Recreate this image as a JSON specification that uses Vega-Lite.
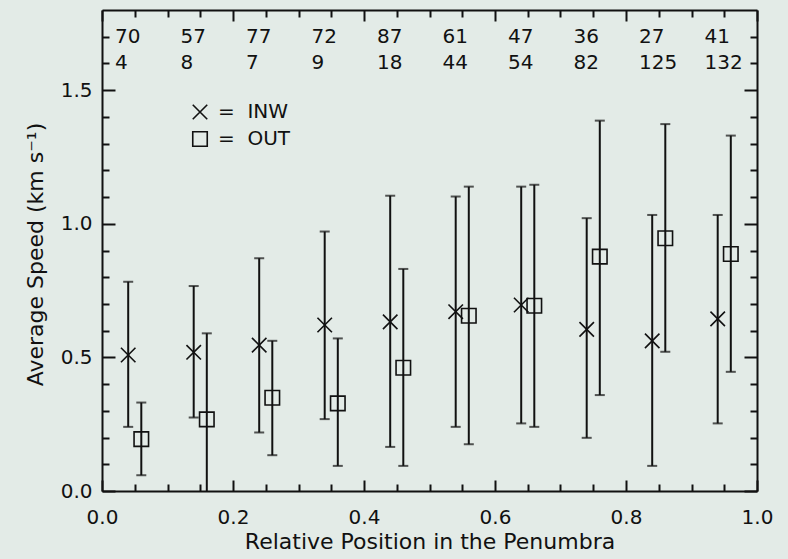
{
  "$schema": "https://vega.github.io/schema/vega-lite/v6.json",
  "width": 655,
  "height": 481,
  "autosize": {"type": "none"},
  "padding": {"left": 102, "top": 10, "right": 31, "bottom": 68},
  "background": "#e3ebe7",
  "config": {
    "view": {"stroke": null},
    "font": "DejaVu Sans",
    "axis": {
      "grid": false,
      "domainColor": "#111111",
      "tickColor": "#111111",
      "labelColor": "#111111",
      "titleColor": "#111111",
      "domainWidth": 2,
      "tickWidth": 2,
      "labelFont": "DejaVu Sans",
      "titleFont": "DejaVu Sans",
      "labelFontSize": 20,
      "titleFontSize": 22,
      "titleFontWeight": "normal",
      "labelFlush": false,
      "labelOverlap": false
    }
  },
  "datasets": {
    "speeds": [
      {"series": "INW", "pos": 0.04, "mean": 0.509, "low": 0.240, "high": 0.783},
      {"series": "INW", "pos": 0.14, "mean": 0.519, "low": 0.275, "high": 0.767},
      {"series": "INW", "pos": 0.24, "mean": 0.546, "low": 0.219, "high": 0.871},
      {"series": "INW", "pos": 0.34, "mean": 0.621, "low": 0.269, "high": 0.971},
      {"series": "INW", "pos": 0.44, "mean": 0.633, "low": 0.165, "high": 1.105},
      {"series": "INW", "pos": 0.54, "mean": 0.671, "low": 0.240, "high": 1.102},
      {"series": "INW", "pos": 0.64, "mean": 0.696, "low": 0.253, "high": 1.139},
      {"series": "INW", "pos": 0.74, "mean": 0.605, "low": 0.199, "high": 1.021},
      {"series": "INW", "pos": 0.84, "mean": 0.562, "low": 0.094, "high": 1.033},
      {"series": "INW", "pos": 0.94, "mean": 0.644, "low": 0.253, "high": 1.033},
      {"series": "OUT", "pos": 0.06, "mean": 0.194, "low": 0.059, "high": 0.331},
      {"series": "OUT", "pos": 0.16, "mean": 0.268, "low": -0.03, "high": 0.590},
      {"series": "OUT", "pos": 0.26, "mean": 0.349, "low": 0.134, "high": 0.562},
      {"series": "OUT", "pos": 0.36, "mean": 0.328, "low": 0.094, "high": 0.571},
      {"series": "OUT", "pos": 0.46, "mean": 0.461, "low": 0.094, "high": 0.831},
      {"series": "OUT", "pos": 0.56, "mean": 0.656, "low": 0.175, "high": 1.139},
      {"series": "OUT", "pos": 0.66, "mean": 0.693, "low": 0.240, "high": 1.146},
      {"series": "OUT", "pos": 0.76, "mean": 0.877, "low": 0.359, "high": 1.386},
      {"series": "OUT", "pos": 0.86, "mean": 0.946, "low": 0.521, "high": 1.373},
      {"series": "OUT", "pos": 0.96, "mean": 0.887, "low": 0.446, "high": 1.330}
    ],
    "counts": [
      {"start": 0.0, "n_inw": "70", "n_out": "4"},
      {"start": 0.1, "n_inw": "57", "n_out": "8"},
      {"start": 0.2, "n_inw": "77", "n_out": "7"},
      {"start": 0.3, "n_inw": "72", "n_out": "9"},
      {"start": 0.4, "n_inw": "87", "n_out": "18"},
      {"start": 0.5, "n_inw": "61", "n_out": "44"},
      {"start": 0.6, "n_inw": "47", "n_out": "54"},
      {"start": 0.7, "n_inw": "36", "n_out": "82"},
      {"start": 0.8, "n_inw": "27", "n_out": "125"},
      {"start": 0.9, "n_inw": "41", "n_out": "132"}
    ]
  },
  "resolve": {"axis": {"x": "independent", "y": "independent"}},
  "layer": [
    {
      "data": {"name": "speeds"},
      "mark": {"type": "rule", "color": "#111111", "strokeWidth": 2, "clip": true},
      "encoding": {
        "x": {"field": "pos", "type": "quantitative", "scale": {"domain": [0, 1], "nice": false, "zero": false},
              "axis": {"orient": "bottom", "values": [0.05, 0.1, 0.15, 0.25, 0.3, 0.35, 0.45, 0.5, 0.55, 0.65, 0.7, 0.75, 0.85, 0.9, 0.95], "tickSize": -7, "labels": false, "domain": false, "title": null}},
        "y": {"field": "low", "type": "quantitative", "scale": {"domain": [0, 1.8], "nice": false, "zero": false},
              "axis": {"orient": "left", "values": [0.1, 0.2, 0.3, 0.4, 0.6, 0.7, 0.8, 0.9, 1.1, 1.2, 1.3, 1.4, 1.6, 1.7], "tickSize": -7, "labels": false, "domain": false, "title": null}},
        "y2": {"field": "high"}
      }
    },
    {
      "data": {"name": "speeds"},
      "mark": {"type": "tick", "orient": "horizontal", "size": 10, "thickness": 2, "color": "#111111", "clip": true},
      "encoding": {
        "x": {"field": "pos", "type": "quantitative", "scale": {"domain": [0, 1], "nice": false, "zero": false},
              "axis": {"orient": "top", "values": [0, 0.2, 0.4, 0.6, 0.8, 1.0], "tickSize": -11, "labels": false, "domain": true, "title": null}},
        "y": {"field": "low", "type": "quantitative", "scale": {"domain": [0, 1.8], "nice": false, "zero": false},
              "axis": {"orient": "right", "values": [0, 0.5, 1.0, 1.5], "tickSize": -13, "labels": false, "domain": true, "title": null}}
      }
    },
    {
      "data": {"name": "speeds"},
      "mark": {"type": "tick", "orient": "horizontal", "size": 10, "thickness": 2, "color": "#111111", "clip": true},
      "encoding": {
        "x": {"field": "pos", "type": "quantitative", "scale": {"domain": [0, 1], "nice": false, "zero": false},
              "axis": {"orient": "top", "values": [0.05, 0.1, 0.15, 0.25, 0.3, 0.35, 0.45, 0.5, 0.55, 0.65, 0.7, 0.75, 0.85, 0.9, 0.95], "tickSize": -7, "labels": false, "domain": false, "title": null}},
        "y": {"field": "high", "type": "quantitative", "scale": {"domain": [0, 1.8], "nice": false, "zero": false},
              "axis": {"orient": "right", "values": [0.1, 0.2, 0.3, 0.4, 0.6, 0.7, 0.8, 0.9, 1.1, 1.2, 1.3, 1.4, 1.6, 1.7], "tickSize": -7, "labels": false, "domain": false, "title": null}}
      }
    },
    {
      "data": {"name": "speeds"},
      "mark": {"type": "point", "filled": false, "color": "#111111", "strokeWidth": 1.6, "size": 210, "opacity": 1},
      "encoding": {
        "x": {"field": "pos", "type": "quantitative", "scale": {"domain": [0, 1], "nice": false, "zero": false},
              "axis": {"orient": "bottom", "values": [0, 0.2, 0.4, 0.6, 0.8, 1.0], "format": ".1f", "tickSize": -11, "labelPadding": 27, "domain": true,
                       "title": "Relative Position in the Penumbra", "titleY": 57, "titleBaseline": "alphabetic"}},
        "y": {"field": "mean", "type": "quantitative", "scale": {"domain": [0, 1.8], "nice": false, "zero": false},
              "axis": {"orient": "left", "values": [0, 0.5, 1.0, 1.5], "format": ".1f", "tickSize": -13, "labelPadding": 23, "domain": true,
                       "title": "Average Speed (km s⁻¹)", "titleX": -60, "titleY": 244, "titleAngle": 270, "titleAlign": "center", "titleBaseline": "alphabetic"}},
        "shape": {"field": "series", "type": "nominal",
                  "scale": {"domain": ["INW", "OUT"], "range": ["M-1,-1L1,1M1,-1L-1,1", "square"]},
                  "legend": {"orient": "none", "legendX": 88, "legendY": 92, "title": null,
                             "labelExpr": "'=\u00a0\u00a0' + datum.label", "labelFont": "DejaVu Sans", "labelFontSize": 20, "labelColor": "#111111",
                             "symbolSize": 210, "symbolStrokeWidth": 1.6, "symbolStrokeColor": "#111111", "symbolFillColor": "transparent",
                             "rowPadding": 5, "labelOffset": 8}}
      }
    },
    {
      "data": {"name": "counts"},
      "mark": {"type": "text", "align": "left", "baseline": "middle", "dx": 13, "fontSize": 20, "font": "DejaVu Sans", "color": "#111111"},
      "encoding": {
        "x": {"field": "start", "type": "quantitative", "axis": null},
        "y": {"datum": 1.7, "type": "quantitative", "axis": null},
        "text": {"field": "n_inw"}
      }
    },
    {
      "data": {"name": "counts"},
      "mark": {"type": "text", "align": "left", "baseline": "middle", "dx": 13, "fontSize": 20, "font": "DejaVu Sans", "color": "#111111"},
      "encoding": {
        "x": {"field": "start", "type": "quantitative", "axis": null},
        "y": {"datum": 1.6, "type": "quantitative", "axis": null},
        "text": {"field": "n_out"}
      }
    }
  ]
}
